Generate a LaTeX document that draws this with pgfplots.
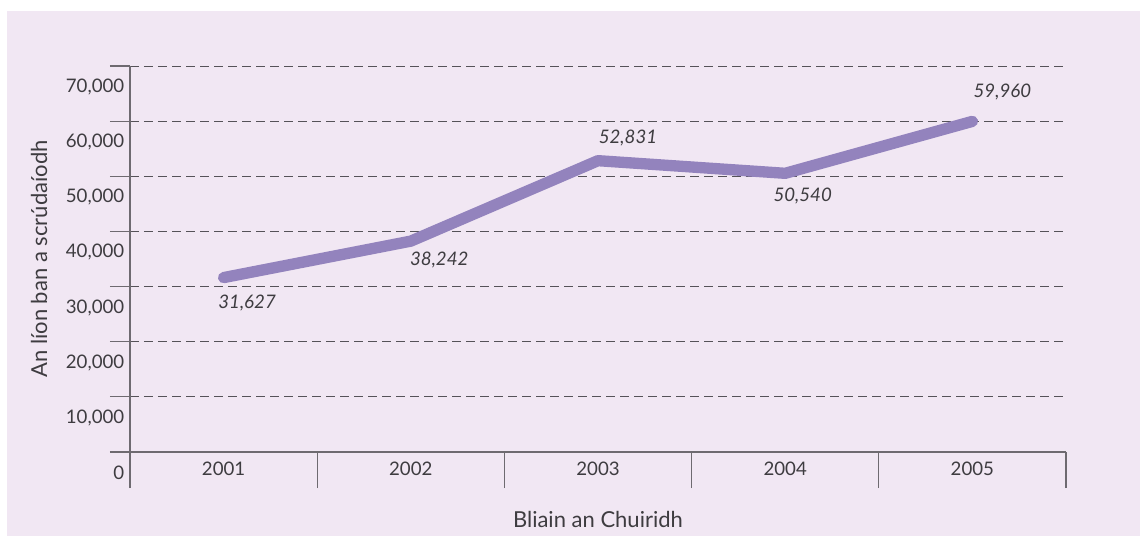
\documentclass[border=0pt]{standalone}
\usepackage{pgfplots}
\pgfplotsset{compat=1.18}
\usepackage{fontspec}
\setmainfont{Lato}
\definecolor{panel}{RGB}{241,231,243}
\definecolor{axgray}{RGB}{110,106,112}
\definecolor{gridgray}{RGB}{85,82,88}
\definecolor{txt}{RGB}{62,60,64}
\definecolor{linepurple}{RGB}{147,131,189}

\pgfplotsset{
  lbl/.style 2 args={draw=none, mark=none, forget plot,
    nodes near coords, point meta=explicit symbolic,
    every node near coord/.append style={anchor=center, text=txt,
      font=\fontsize{14}{16}\selectfont\itshape,
      xshift=#1*0.75pt, yshift=#2*0.75pt}},
}

\begin{document}
\begin{tikzpicture}
\useasboundingbox (0,0) rectangle (855pt,402pt);
\fill[white] (0,0) rectangle (855pt,402pt);
\fill[panel] (5.25pt,0) rectangle (855pt,393.75pt);
\begin{axis}[
  at={(97.5pt,63pt)}, anchor=south west,
  scale only axis, width=702pt, height=289.5pt,
  xmin=0.5, xmax=5.5, ymin=0, ymax=70000,
  scaled y ticks=false,
  axis lines*=left,
  axis line style={draw=axgray, line width=0.8pt},
  font=\fontsize{14}{16}\selectfont,
  tick label style={text=txt},
  xtick={1,2,3,4,5},
  xticklabels={2001,2002,2003,2004,2005},
  xticklabel style={yshift=11.25pt},
  xtick style={draw=none},
  extra x ticks={0.5,1.5,2.5,3.5,4.5,5.5},
  extra x tick labels={},
  extra x tick style={major tick length=27pt, tick align=outside, xtick style={draw=axgray, line width=0.8pt}},
  ytick={0,10000,20000,30000,40000,50000,60000,70000},
  yticklabels={0,{10,000},{20,000},{30,000},{40,000},{50,000},{60,000},{70,000}},
  yticklabel style={yshift=-15.75pt, xshift=14.25pt},
  tick align=outside,
  major tick length=15pt,
  ytick style={draw=axgray, line width=0.8pt},
  ymajorgrids=true,
  major grid style={draw=gridgray, line width=0.6pt, dash pattern=on 6.75pt off 3.75pt},
  xlabel={Bliain an Chuiridh},
  ylabel={An líon ban a scrúdaíodh},
  label style={text=txt, font=\fontsize{16.5}{18}\selectfont},
  xlabel style={at={(axis description cs:0.5,-0.1736)}, anchor=center},
  ylabel style={at={(axis description cs:-0.0972,0.5)}, anchor=center},
  clip=false,
]
\addplot[draw=linepurple, line width=8.5pt, line cap=round, line join=round, mark=none]
  coordinates {(1,31627) (2,38242) (3,52831) (4,50540) (5,59960)};
\addplot[lbl={23.5}{-25}] coordinates {(1,31627) [31,627]};
\addplot[lbl={28.5}{-19}] coordinates {(2,38242) [38,242]};
\addplot[lbl={30}{22.5}] coordinates {(3,52831) [52,831]};
\addplot[lbl={17.5}{-23}] coordinates {(4,50540) [50,540]};
\addplot[lbl={30}{29.5}] coordinates {(5,59960) [59,960]};
\end{axis}
\end{tikzpicture}
\end{document}
